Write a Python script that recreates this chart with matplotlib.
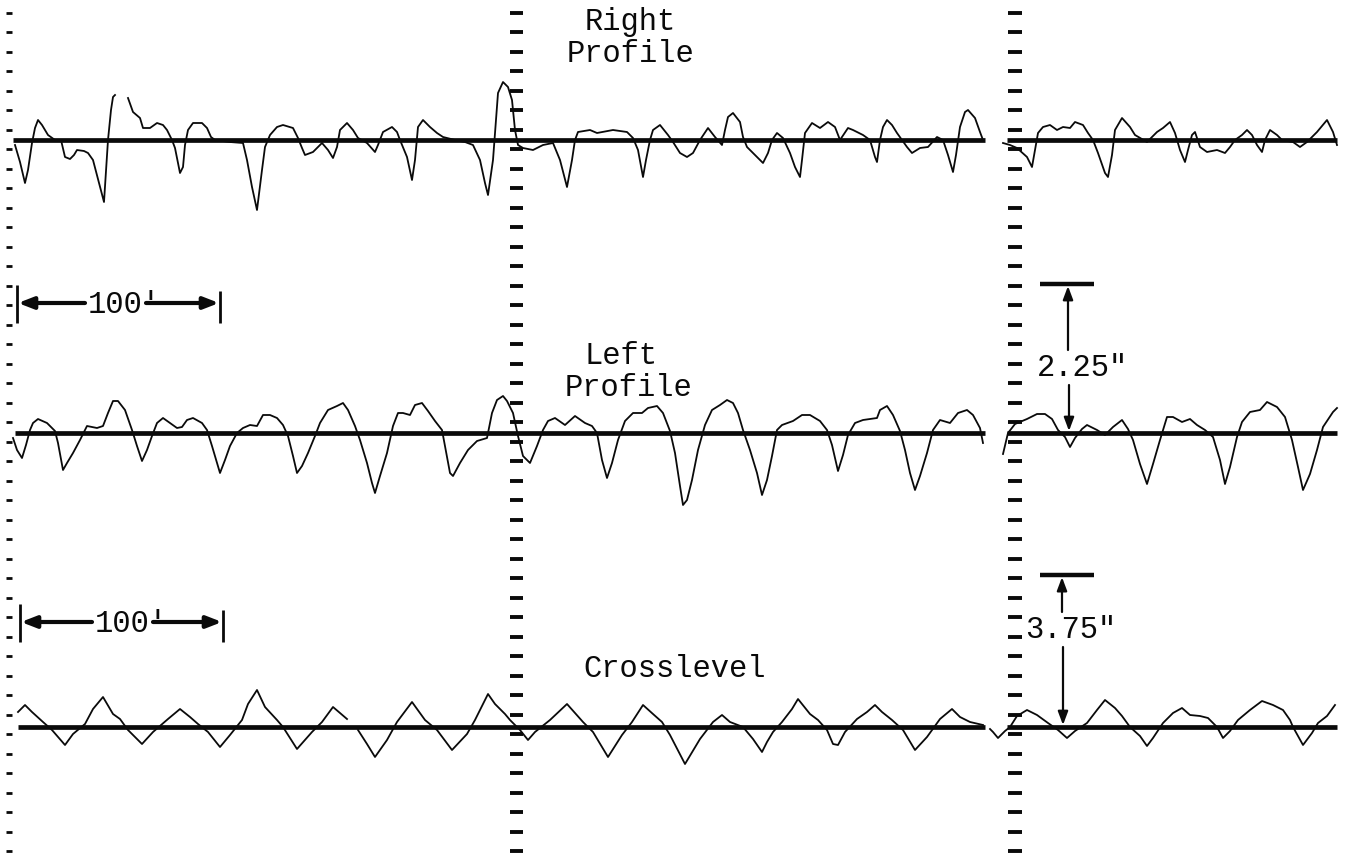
import numpy as np
import matplotlib
matplotlib.use("Agg")
import matplotlib.pyplot as plt

# ---------------------------------------------------------------------------
# Strip-chart record: right profile, left profile and crosslevel traces.
# Trace data: (position along chart, pen deflection) in chart units
# (1 unit = 0.01 in of chart paper); deflection positive = upward.
# ---------------------------------------------------------------------------
NAN = (np.nan, np.nan)

right_profile_a = [
    (15, -5), (20, -22), (25, -43), (28, -30), (32, -3), (35, 12), (38, 20), (42, 15),
    (48, 5), (55, 0), (61, 0), (65, -17), (70, -19), (74, -15), (77, -10), (84, -11),
    (88, -13), (93, -20), (100, -47), (104, -62), (108, 0), (111, 30), (113, 43),
    (115, 45), NAN, (128, 42), (133, 28), (140, 22), (143, 12), (150, 12), (157, 17),
    (163, 15), (167, 10), (172, 0), (175, -8), (180, -33), (183, -27), (185, -5),
    (188, 10), (193, 17), (202, 17), (207, 12), (211, 3), (215, 0), (230, -2),
    (243, -3), (247, -20), (252, -47), (257, -70), (262, -30), (265, -7), (270, 5),
    (277, 13), (283, 15), (293, 12), (298, 2), (302, -8), (305, -15), (313, -12),
    (322, -3), (328, -10), (333, -18), (337, -7), (340, 10), (347, 17), (353, 10),
    (358, 2), (367, -3), (375, -12), (378, -5), (383, 8), (392, 13), (397, 8),
    (400, 0), (407, -17), (412, -40), (415, -20), (418, 13), (423, 20), (430, 13),
    (437, 7), (443, 3), (455, 0), (465, -2), (473, -5), (480, -20), (485, -43),
    (488, -55), (493, -20), (496, 20), (498, 47), (503, 58), (508, 53), (512, 40),
    (515, 10), (518, -5), (523, -8), (533, -10), (543, -5), (553, -3), (560, -20),
    (567, -47), (572, -20), (575, 0), (578, 8), (590, 10), (597, 7), (613, 10),
    (627, 8), (633, 2), (638, -10), (643, -37), (646, -20), (650, 0), (653, 10),
    (660, 15), (668, 5), (673, -2), (680, -13), (687, -17), (693, -13), (700, 0),
    (708, 12), (715, 3), (722, -5), (725, 10), (728, 23), (733, 27), (740, 18),
    (743, 3), (747, -7), (757, -17), (763, -23), (768, -13), (772, 0), (777, 7),
    (783, 2), (790, -13), (795, -27), (800, -37), (802, -20), (805, 7), (812, 17),
    (820, 12), (828, 18), (835, 13), (840, 0), (848, 12), (853, 10), (863, 5),
    (870, 0), (875, -17), (877, -22), (880, 0), (883, 13), (887, 20), (892, 15),
    (897, 7), (907, -7), (912, -13), (920, -8), (928, -7), (937, 3), (943, 0),
    (948, -15), (953, -32), (956, -15), (960, 13), (965, 28), (968, 30), (975, 22),
    (980, 8), (983, 0),
]
right_profile_b = [
    (1003, -3), (1010, -5), (1017, -8), (1027, -17), (1032, -27), (1035, -10),
    (1038, 7), (1043, 13), (1050, 15), (1057, 10), (1063, 13), (1070, 12), (1075, 18),
    (1083, 15), (1088, 7), (1093, 0), (1098, -13), (1105, -33), (1108, -37),
    (1112, -15), (1115, 10), (1122, 22), (1130, 13), (1135, 5), (1147, -2), (1157, 8),
    (1163, 12), (1170, 18), (1175, 7), (1180, -10), (1185, -22), (1188, -10),
    (1192, 5), (1195, 8), (1200, -7), (1207, -12), (1217, -10), (1225, -13),
    (1230, -7), (1235, 0), (1242, 5), (1247, 10), (1252, 5), (1257, -5), (1262, -12),
    (1265, 0), (1270, 10), (1277, 5), (1282, 0), (1293, -2), (1300, -7), (1307, -2),
    (1317, 8), (1327, 20), (1333, 8), (1337, -5),
]
left_profile_a = [
    (13, -5), (17, -17), (22, -25), (26, -12), (30, 3), (33, 10), (38, 14), (47, 10),
    (55, 2), (58, -10), (63, -37), (67, -30), (73, -20), (80, -7), (87, 7), (97, 5),
    (103, 7), (108, 20), (113, 32), (118, 32), (125, 23), (132, 3), (137, -13),
    (142, -28), (147, -17), (152, -3), (157, 10), (163, 15), (170, 10), (177, 5),
    (182, 6), (187, 13), (193, 15), (202, 10), (207, 3), (212, -13), (217, -30),
    (220, -40), (225, -27), (230, -13), (237, 0), (243, 5), (250, 8), (257, 7),
    (263, 18), (270, 18), (277, 15), (283, 8), (288, -3), (293, -23), (297, -40),
    (302, -33), (308, -20), (315, -3), (320, 10), (328, 23), (337, 27), (343, 30),
    (348, 23), (355, 7), (360, -7), (367, -30), (372, -50), (375, -60), (380, -43),
    (387, -20), (393, 7), (398, 20), (403, 20), (410, 18), (415, 28), (422, 30),
    (428, 22), (435, 12), (442, 3), (445, -13), (450, -40), (453, -43), (460, -30),
    (468, -17), (477, -8), (487, -5), (492, 20), (497, 33), (503, 37), (507, 32),
    (513, 20), (518, -3), (523, -23), (530, -30), (537, -13), (543, 3), (548, 12),
    (555, 15), (565, 8), (575, 17), (585, 10), (592, 7), (597, 0), (602, -27),
    (607, -45), (612, -30), (618, -7), (625, 12), (633, 20), (642, 20), (648, 25),
    (657, 27), (663, 20), (670, 2), (675, -20), (680, -53), (683, -72), (687, -67),
    (692, -47), (698, -17), (705, 8), (712, 23), (720, 28), (727, 33), (733, 30),
    (738, 20), (743, 3), (750, -17), (757, -40), (762, -62), (767, -47), (772, -23),
    (777, 3), (782, 8), (793, 12), (802, 18), (810, 18), (820, 12), (827, 3),
    (832, -12), (838, -38), (843, -22), (848, -2), (855, 10), (863, 13), (877, 15),
    (880, 23), (887, 27), (893, 18), (900, 2), (905, -17), (910, -40), (915, -57),
    (920, -43), (927, -20), (933, 3), (940, 13), (950, 10), (958, 20), (967, 23),
    (973, 18), (980, 5), (983, -10),
]
left_profile_b = [
    (1003, -21), (1008, 0), (1015, 9), (1027, 14), (1037, 19), (1045, 19), (1052, 14),
    (1058, 3), (1065, -4), (1070, -14), (1075, -5), (1082, 4), (1087, 8), (1097, 3),
    (1105, -2), (1113, 6), (1122, 13), (1128, 4), (1133, -7), (1140, -31), (1147, -51),
    (1153, -31), (1160, -7), (1167, 16), (1173, 16), (1182, 11), (1190, 14), (1197, 8),
    (1205, 3), (1213, -4), (1220, -27), (1225, -51), (1230, -34), (1237, -4),
    (1242, 11), (1250, 21), (1260, 23), (1267, 31), (1277, 26), (1285, 16),
    (1292, -7), (1298, -34), (1303, -57), (1310, -41), (1317, -17), (1323, 6),
    (1333, 21), (1337, 25),
]
crosslevel_a = [
    (18, 15), (25, 22), (32, 15), (43, 5), (52, -3), (65, -18), (73, -7), (85, 3),
    (93, 18), (103, 30), (113, 13), (120, 8), (128, -3), (142, -17), (153, -5),
    (168, 8), (180, 18), (190, 10), (198, 3), (208, -5), (220, -20), (230, -8),
    (242, 7), (248, 23), (257, 37), (265, 20), (277, 7), (283, 0), (297, -22),
    (312, -5), (322, 5), (333, 20), (347, 8), NAN, (358, -3), (367, -17), (375, -30),
    (387, -13), (397, 5), (412, 25), (425, 7), (437, -3), (452, -23), (467, -7),
    (475, 7), (488, 33), (495, 23), (505, 13), (510, 7), (520, -3), (528, -13),
    (535, -5), (550, 7), (567, 23), (583, 5), (593, -5), (608, -30), (622, -8),
    (632, 5), (643, 22), (653, 13), (662, 5), (670, -8), (685, -37), (700, -12),
    (713, 5), (722, 12), (730, 5), (743, 0), (753, -12), (762, -25), (767, -15),
    (773, -5), (782, 5), (792, 18), (798, 28), (810, 13), (818, 7), (827, -3),
    (833, -17), (838, -18), (845, -5), (857, 8), (867, 15), (875, 22), (882, 15),
    (892, 7), (903, -3), (915, -23), (927, -10), (940, 8), (952, 18), (960, 10),
    (970, 5), (983, 2),
]
crosslevel_b = [
    (990, -2), (993, -5), (998, -11), (1005, -4), (1010, 0), (1017, 11), (1027, 17),
    (1037, 12), (1048, 4), (1058, -3), (1067, -11), (1075, -4), (1087, 4), (1097, 17),
    (1105, 27), (1115, 19), (1122, 11), (1130, 0), (1140, -9), (1147, -19),
    (1153, -11), (1163, 4), (1173, 14), (1182, 19), (1190, 12), (1200, 11),
    (1208, 9), (1217, 0), (1223, -11), (1230, -4), (1238, 7), (1250, 17), (1262, 26),
    (1273, 22), (1283, 17), (1290, 7), (1293, 0), (1303, -18), (1312, -6), (1318, 4),
    (1327, 11), (1335, 22),
]

# Channel labels and limit markers (limit values in inches)
channel_labels = [["Right", "Profile"], ["Left", "Profile"], ["Crosslevel"]]
limit_labels = ['2.25"', '3.75"']
limit_values = [2.25, 3.75]
distance_label = "100'"
distance_ft = 100

# ---------------------------------------------------------------------------
# Layout (chart units, y grows downward on the paper)
# ---------------------------------------------------------------------------
W, H = 1347, 859
BASE = {"right": 140, "left": 433, "cross": 727}
SCALE = {"left": 66.2, "cross": 40.5}          # chart units per inch
FT_UNITS = 2.03                                   # chart units per foot
SPLIT = (10, 985, 1003, 1337)                     # the record is broken at 985-1003

fig = plt.figure(figsize=(W / 100, H / 100), dpi=100)
ax = fig.add_axes([0, 0, 1, 1])
ax.set_xlim(0, W)
ax.set_ylim(H, 0)
ax.axis("off")
fig.patch.set_facecolor("white")

INK = "#0a0a0a"
MONO = ["Liberation Mono", "DejaVu Sans Mono"]
FS = 22

# chart-paper index marks: three columns of short dashes
marks = np.arange(12.7, H, 19.5)
ax.hlines(marks, 6, 12, color=INK, lw=2.0)
ax.hlines(marks, 510, 523, color=INK, lw=2.8)
ax.hlines(marks, 1008, 1022, color=INK, lw=2.8)

# zero lines of the three channels
for key, start in (("right", 13), ("left", 15), ("cross", 18)):
    y0 = BASE[key]
    ax.hlines(y0, start, SPLIT[1], color=INK, lw=3.4)
    ax.hlines(y0, SPLIT[2] + 4, SPLIT[3], color=INK, lw=3.4)


def draw_trace(points, base):
    arr = np.array(points, dtype=float)
    ax.plot(arr[:, 0], base - arr[:, 1], color=INK, lw=1.3, solid_joinstyle="round")


draw_trace(right_profile_a, BASE["right"])
draw_trace(right_profile_b, BASE["right"])
draw_trace(left_profile_a, BASE["left"])
draw_trace(left_profile_b, BASE["left"])
draw_trace(crosslevel_a, BASE["cross"])
draw_trace(crosslevel_b, BASE["cross"])

# channel titles
ax.text(585, 30, channel_labels[0][0], family=MONO, fontsize=FS, color=INK, va="baseline")
ax.text(567, 62, channel_labels[0][1], family=MONO, fontsize=FS, color=INK, va="baseline")
ax.text(584, 364, channel_labels[1][0], family=MONO, fontsize=FS, color=INK, va="baseline")
ax.text(565, 396, channel_labels[1][1], family=MONO, fontsize=FS, color=INK, va="baseline")
ax.text(583, 677, channel_labels[2][0], family=MONO, fontsize=FS, color=INK, va="baseline")

# distance scale bars (100 ft)
arrow_kw = dict(arrowstyle="-|>,head_length=0.9,head_width=0.35", color=INK, lw=3.0,
                shrinkA=0, shrinkB=0)
for y, x0, txt_x in ((303, 17, 88), (622, 20, 95)):
    x1 = x0 + distance_ft * FT_UNITS
    ax.vlines([x0], y - 18, y + 20, color=INK, lw=2.0)
    ax.vlines([x1], y - 12, y + 20, color=INK, lw=2.0)
    ax.annotate("", xy=(x0 + 1, y), xytext=(txt_x - 3, y), arrowprops=arrow_kw)
    ax.annotate("", xy=(x1 - 1, y), xytext=(txt_x + 58, y), arrowprops=arrow_kw)
    ax.text(txt_x, y + 2, distance_label, family=MONO, fontsize=FS, color=INK,
            va="center", ha="left")

# limit markers
dim_kw = dict(arrowstyle="-|>,head_length=0.8,head_width=0.3", color=INK, lw=1.6,
              shrinkA=0, shrinkB=0)
for key, val, lab, ax_x, txt_x, txt_y in (
        ("left", limit_values[0], limit_labels[0], 1068, 1037, 368),
        ("cross", limit_values[1], limit_labels[1], 1062, 1025, 630)):
    y0 = BASE[key]
    y_lim = y0 - val * SCALE[key]
    ax.hlines(y_lim, 1040, 1094, color=INK, lw=3.2)
    ax.annotate("", xy=(ax_x, y_lim + 2), xytext=(ax_x, txt_y - 18), arrowprops=dim_kw)
    ax.annotate("", xy=(ax_x + 1, y0 - 2), xytext=(ax_x + 1, txt_y + 17), arrowprops=dim_kw)
    ax.text(txt_x, txt_y, lab, family=MONO, fontsize=FS, color=INK, va="center", ha="left")

fig.savefig("out.png", dpi=100, facecolor="white")
